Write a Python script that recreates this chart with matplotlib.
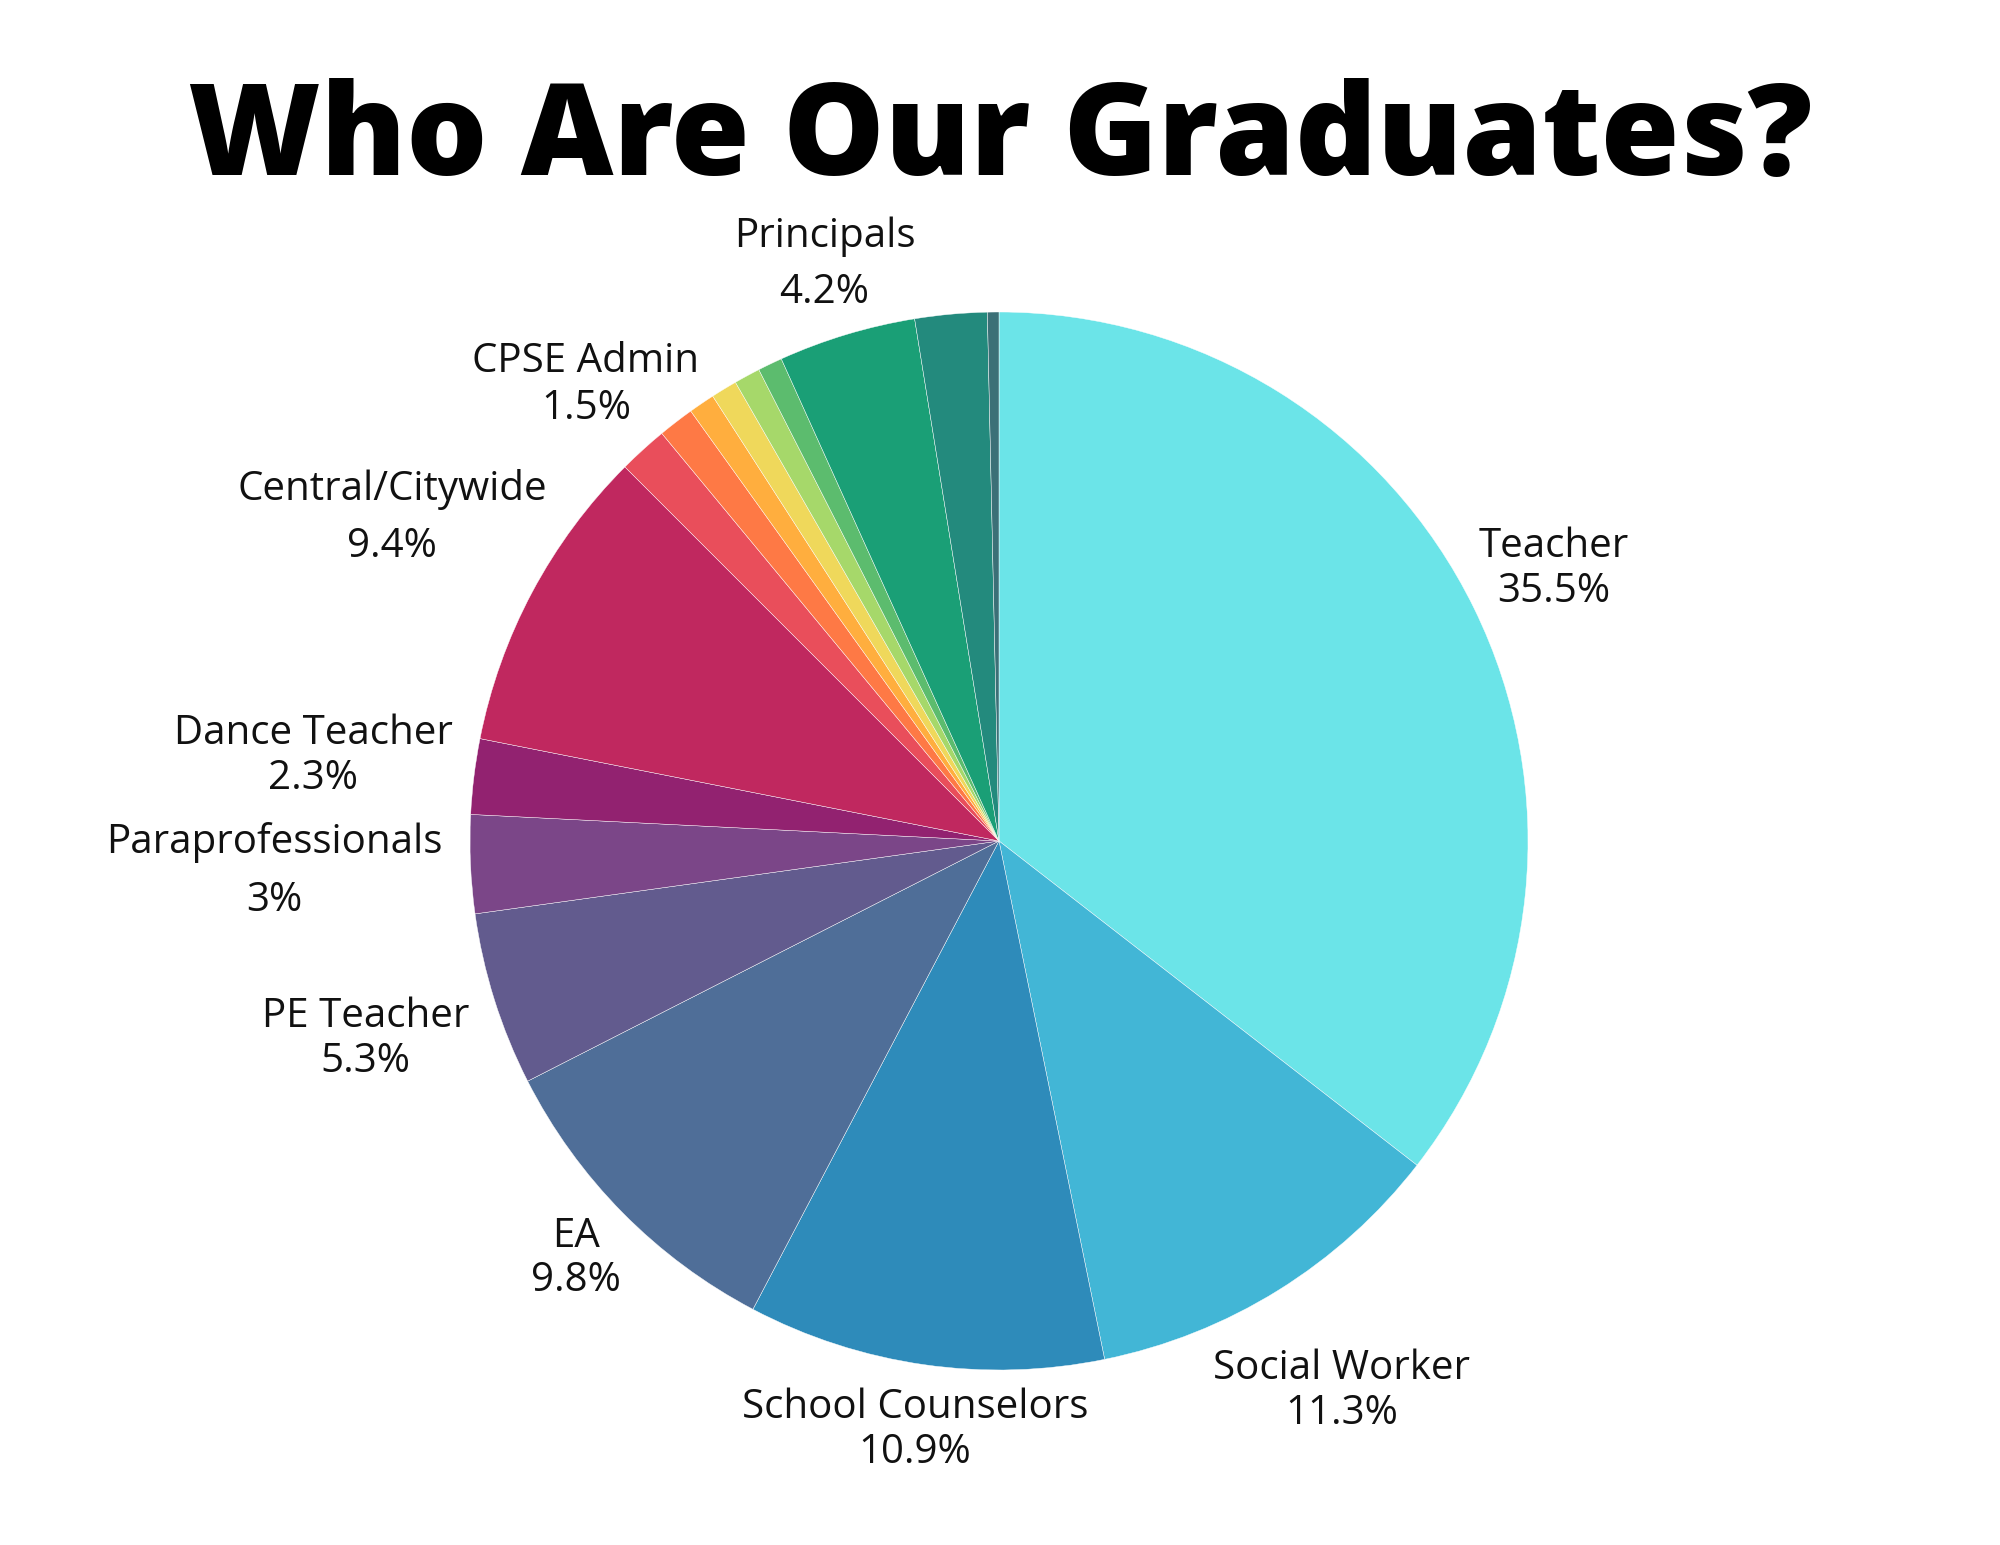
import matplotlib
matplotlib.use("Agg")
import matplotlib.pyplot as plt

# ---- data ----
categories = ["Teacher", "Social Worker", "School Counselors", "EA", "PE Teacher",
              "Paraprofessionals", "Dance Teacher", "Central/Citywide", "CPSE Admin",
              "Other A", "Other B", "Other C", "Other D", "Other E",
              "Principals", "Other F", "Other G"]
values = [35.5, 11.3, 10.9, 9.8, 5.3, 3.0, 2.3, 9.4, 1.5,
          1.1, 0.8, 0.8, 0.8, 0.75, 4.2, 2.2, 0.35]
pct_labels = ["35.5%", "11.3%", "10.9%", "9.8%", "5.3%", "3%", "2.3%", "9.4%", "1.5%",
              "", "", "", "", "", "4.2%", "", ""]
show_label = [True, True, True, True, True, True, True, True, True,
              False, False, False, False, False, True, False, False]

# ---- styles ----
colors = ["#6be4e8", "#42b6d6", "#2e8bba", "#4f6e98", "#625b8e", "#7b4688",
          "#922270", "#c0285f", "#e94e5b", "#fe7945", "#ffae3e", "#efd85b",
          "#a6d86a", "#5cbc6e", "#1a9f76", "#238a7d", "#3b7077"]

# label layout (x, name_y, pct_y) in pie units
label_pos = {
    "Teacher": (1.048, 0.557, 0.472),
    "Social Worker": (0.648, -0.998, -1.082),
    "School Counselors": (-0.159, -1.072, -1.157),
    "EA": (-0.800, -0.749, -0.831),
    "PE Teacher": (-1.198, -0.333, -0.417),
    "Paraprofessionals": (-1.369, -0.002, -0.113),
    "Dance Teacher": (-1.296, 0.202, 0.118),
    "Central/Citywide": (-1.147, 0.665, 0.557),
    "CPSE Admin": (-0.781, 0.906, 0.817),
    "Principals": (-0.330, 1.142, 1.036),
}

W, H = 2000, 1545
fig = plt.figure(figsize=(W / 100, H / 100), dpi=100)
ax = fig.add_axes([0, 0, 1, 1])

ax.pie(values, colors=colors, startangle=90, counterclock=False, radius=1,
       wedgeprops=dict(edgecolor="white", linewidth=0.3))

cx, cy, r = 999, 704, 529
ax.set_aspect("auto")
ax.set_xlim(-cx / r, (W - cx) / r)
ax.set_ylim(-cy / r, (H - cy) / r)
ax.axis("off")

lab_font = dict(family=["Open Sans", "DejaVu Sans"], fontsize=29, color="#111111",
                ha="center", va="center")
for cat, pct, show in zip(categories, pct_labels, show_label):
    if not show:
        continue
    x, ny, py = label_pos[cat]
    ax.text(x, ny, cat, **lab_font)
    ax.text(x, py, pct, **lab_font)

fig.text(0.5, 1 - 142 / H, "Who Are Our Graduates?", ha="center", va="center",
         fontsize=92, fontweight=800, family=["Open Sans", "DejaVu Sans"], color="black")

fig.savefig("out.png", dpi=100, facecolor="white")
